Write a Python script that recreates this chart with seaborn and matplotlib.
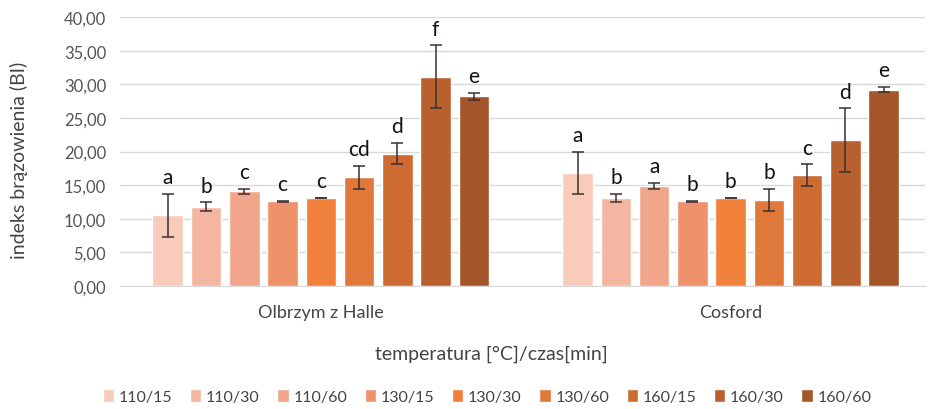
import pandas as pd
import matplotlib.pyplot as plt
import seaborn as sns

# Data
varieties = ['Olbrzym z Halle', 'Cosford']
treatments = ['110/15', '110/30', '110/60', '130/15', '130/30',
              '130/60', '160/15', '160/30', '160/60']
bi_halle = [10.5, 11.8, 14.1, 12.6, 13.1, 16.2, 19.7, 31.1, 28.2]
bi_cosford = [16.8, 13.1, 14.9, 12.6, 13.1, 12.8, 16.5, 21.7, 29.2]
err_halle = [3.2, 0.65, 0.4, 0.05, 0.05, 1.7, 1.6, 4.7, 0.55]
err_cosford = [3.15, 0.65, 0.4, 0.05, 0.05, 1.7, 1.6, 4.7, 0.4]
letters_halle = ['a', 'b', 'c', 'c', 'c', 'cd', 'd', 'f', 'e']
letters_cosford = ['a', 'b', 'a', 'b', 'b', 'b', 'c', 'd', 'e']

colors = ['#F8CBBA', '#F4B6A1', '#F1A58B', '#EF916A', '#F0803A',
          '#E0783A', '#CD6B33', '#B9612E', '#A5552A']

df = pd.DataFrame({
    'odmiana': [varieties[0]] * 9 + [varieties[1]] * 9,
    'zabieg': treatments * 2,
    'BI': bi_halle + bi_cosford,
})
errs = {varieties[0]: err_halle, varieties[1]: err_cosford}
letters = {varieties[0]: letters_halle, varieties[1]: letters_cosford}
vals = {varieties[0]: bi_halle, varieties[1]: bi_cosford}

sns.set_style('white')
plt.rcParams['font.family'] = ['Lato', 'DejaVu Sans']

fig = plt.figure(figsize=(9.3, 4.1), dpi=100)
ax = fig.add_axes([0.129, 0.300, 0.866, 0.656])

sns.barplot(data=df, x='odmiana', y='BI', hue='zabieg', order=varieties,
            hue_order=treatments, palette=colors, width=0.84, gap=0.2,
            saturation=1, errorbar=None, ax=ax)

# error bars and significance letters
bar_conts = list(ax.containers)
for i, cont in enumerate(bar_conts):
    for j, bar in enumerate(cont.patches):
        v = varieties[j]
        xc = bar.get_x() + bar.get_width() / 2
        y = vals[v][i]
        e = errs[v][i]
        ax.errorbar(xc, y, yerr=e, fmt='none', ecolor='#3b3030',
                    elinewidth=1.1, capsize=4, capthick=1.1, zorder=3)
        ax.text(xc, y + e + 1.0, letters[v][i], ha='center', va='bottom',
                fontsize=15, color='#111111')

ax.set_ylim(0, 40)
ax.set_xlim(-0.49, 1.475)
ax.set_yticks(range(0, 41, 5))
ax.set_yticklabels([f'{t:.2f}'.replace('.', ',') for t in range(0, 41, 5)],
                   fontsize=12, color='#555555')
ax.tick_params(axis='x', labelsize=13, colors='#444444', length=0, pad=13)
ax.tick_params(axis='y', length=0, pad=10)
ax.yaxis.grid(True, color='#D9D9D9', linewidth=1)
ax.set_axisbelow(True)
for s in ['top', 'right', 'left']:
    ax.spines[s].set_visible(False)
ax.spines['bottom'].set_color('#D9D9D9')

ax.set_ylabel('indeks brązowienia (BI)', fontsize=14, color='#444444',
              labelpad=26, y=0.47)
ax.set_xlabel('temperatura [°C]/czas[min]', fontsize=14, color='#444444',
              labelpad=18, x=0.461)

ax.legend(loc='center', bbox_to_anchor=(0.456, -0.41), ncol=9,
          frameon=False, fontsize=11.5, handlelength=0.7, handleheight=0.9,
          handletextpad=0.3, columnspacing=1.1, labelcolor='#444444')

fig.savefig('out.png', dpi=100)
